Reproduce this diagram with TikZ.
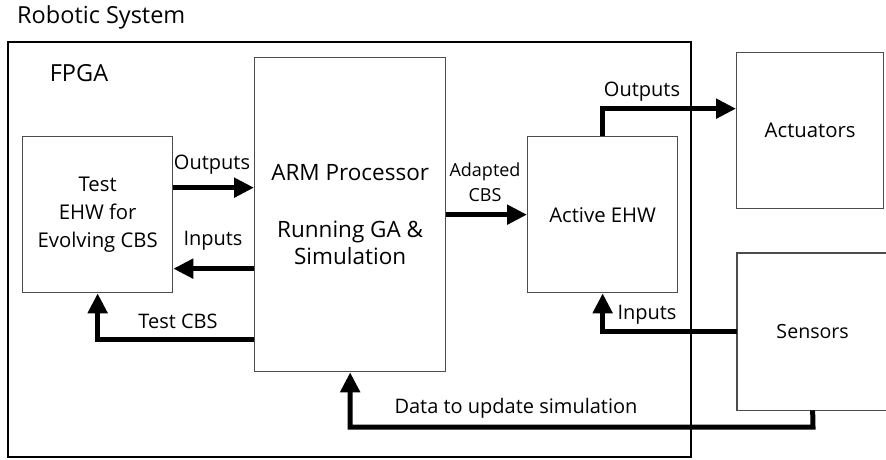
\documentclass[tikz,border=0pt]{standalone}
\usepackage{fontspec}
\setmainfont{Open Sans}
\usetikzlibrary{arrows.meta,calc}
\begin{document}
\begin{tikzpicture}[x=1pt,y=-1pt,
  frame/.style={draw=black!70,line width=1.3pt},
  box/.style={frame,anchor=north west,inner sep=0pt,
    align=center,font=\fontsize{20.3}{28}\selectfont},
  lbl/.style={font=\fontsize{20}{25}\selectfont,inner sep=0pt,align=center},
  small/.style={font=\fontsize{18}{25}\selectfont,inner sep=0pt,align=center},
  title/.style={font=\fontsize{23.5}{28}\selectfont,inner sep=0pt},
  arr/.style={line width=5pt,-{Triangle[length=20pt,width=19pt]}},
]
\useasboundingbox (0,0) rectangle (886,459);

% titles
\node[title,anchor=west] (sys) at (17,17) {Robotic System};
\node[title] (fpga) at (79,73) {FPGA};

% FPGA frame
\draw[line width=2.5pt] (8,42) rectangle (691,457);

% blocks
\node[box,minimum width=150pt,minimum height=156pt] (test) at (22,136)
  {Test\\EHW for\\Evolving CBS};
\node[box,minimum width=191pt,minimum height=314pt,
      font=\fontsize{22.5}{27}\selectfont] (arm) at (254,57)
  {ARM Processor\\[30pt]Running GA \&\\Simulation};
\node[box,minimum width=150pt,minimum height=156pt] (act) at (527,136)
  {Active EHW};
\node[box,minimum width=147pt,minimum height=156pt] (actu) at (736,52)
  {Actuators};
% the sensor block runs on past the right border
\node[box,draw=none,minimum width=150pt,minimum height=156pt,
      font=\fontsize{19.6}{28}\selectfont] (sens) at (737,253)
  {Sensors};
\draw[frame] ([xshift=10pt]sens.north east) -- (sens.north west)
  -- (sens.south west) -- ([xshift=10pt]sens.south east);

% connectors
\draw[arr] ([yshift=27pt]test.east) -- ([yshift=27pt]test.east -| arm.west);
\draw[arr] ([yshift=-54pt]test.east -| arm.west) -- ([yshift=-54pt]test.east);
\draw[arr] ([yshift=-125pt]arm.west) -| (test.south);
\draw[arr] (arm.east) -- (act.west);
\draw[arr] (act.north) |- ([yshift=22pt]actu.west);
\draw[arr] (sens.west) -| (act.south);
\coordinate (dturn) at (813,427);
\draw[arr] (sens.south) -- (dturn) -| (arm.south);

% connector labels
\node[lbl] (l1) at (212,165) {Outputs};
\node[lbl] (l2) at (213,241) {Inputs};
\node[lbl] (l3) at (178,321) {Test CBS};
\node[small] (l4) at (485,182) {Adapted\\CBS};
\node[lbl] (l5) at (642,92) {Outputs};
\node[lbl] (l6) at (647,315) {Inputs};
\node[lbl] (l7) at (516,408) {Data to update simulation};
\end{tikzpicture}
\end{document}
